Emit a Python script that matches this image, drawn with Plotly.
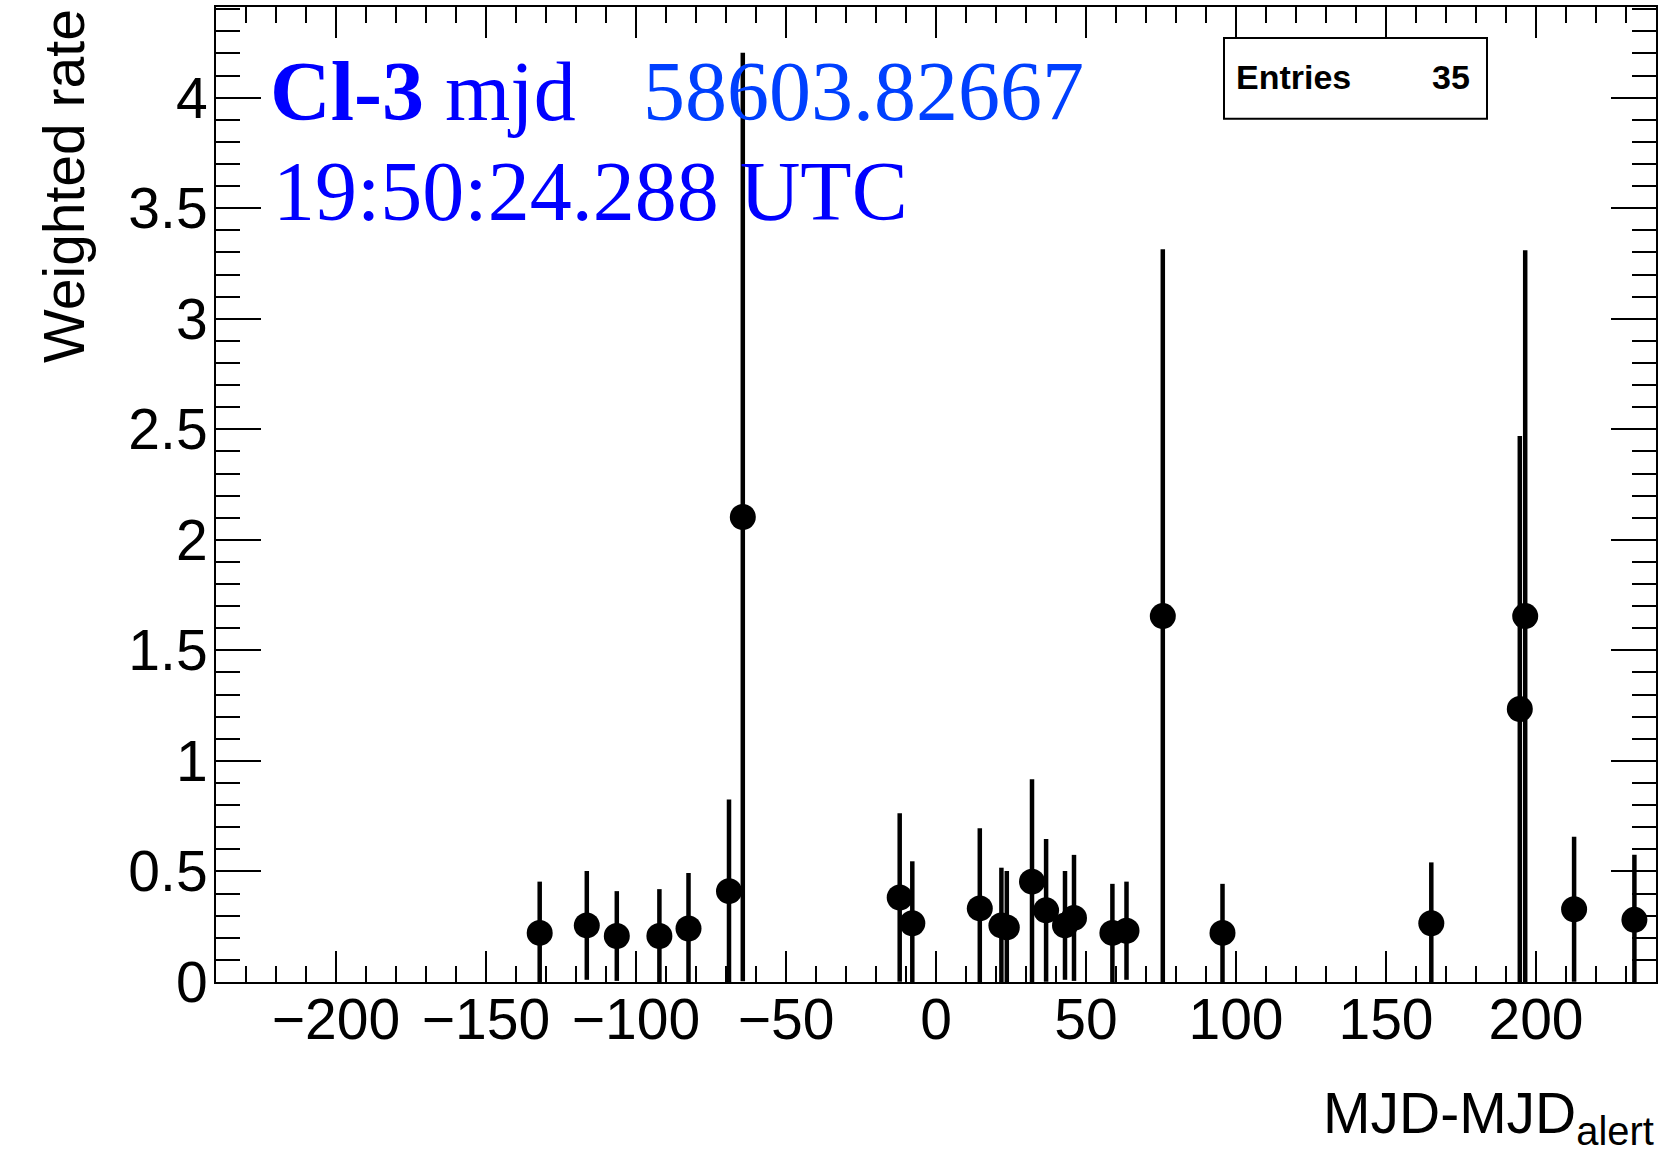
import plotly.graph_objects as go

# Weighted rate per day offset relative to the alert time
dt_days = [-132.1, -116.4, -106.4, -92.2, -82.5, -69.0, -64.4,
           -12.1, -7.9, 14.6, 21.8, 23.6, 32.0, 36.7, 43.0, 46.0,
           58.8, 63.5, 75.6, 95.5, 165.1, 194.6, 196.4, 212.7, 232.8]
rate = [0.222, 0.256, 0.208, 0.208, 0.242, 0.411, 2.103,
        0.382, 0.266, 0.333, 0.256, 0.247, 0.454, 0.324, 0.256, 0.290,
        0.222, 0.232, 1.655, 0.222, 0.266, 1.235, 1.655, 0.329, 0.281]
rate_err = [0.232, 0.246, 0.203, 0.212, 0.251, 0.415, 2.100,
            0.381, 0.280, 0.362, 0.261, 0.255, 0.463, 0.323, 0.246, 0.285,
            0.222, 0.222, 1.659, 0.222, 0.275, 1.235, 1.655, 0.328, 0.294]

n_entries = 35
x_range = [-240, 240]
y_range = [0, 4.41]

W, H = 1676, 1167
L, R, T, B = 216, 20, 5, 185
PW, PH = W - L - R, H - T - B


def px_x(p):
    return (p - L) / PW


def px_y(p):
    return (H - B - p) / PH


SANS = "Liberation Sans"
SERIF = "Liberation Serif"

fig = go.Figure()
fig.add_trace(go.Scatter(
    x=dt_days, y=rate, mode="markers",
    marker=dict(color="black", size=26, symbol="circle", line=dict(width=0)),
    error_y=dict(type="data", array=rate_err, visible=True,
                 color="black", thickness=4.5, width=0),
    showlegend=False, hoverinfo="skip",
))

axis_common = dict(
    showline=True, linecolor="black", linewidth=2, mirror="ticks",
    ticks="inside", tickcolor="black", tickwidth=2,
    showgrid=False, zeroline=False,
    tickfont=dict(family=SANS, size=57, color="black"),
)

fig.update_xaxes(range=x_range, dtick=50, tick0=0, ticklen=31,
                 ticklabelstandoff=-13,
                 minor=dict(dtick=10, ticklen=16, ticks="inside",
                            tickcolor="black", tickwidth=2, showgrid=False),
                 **axis_common)
fig.update_yaxes(range=y_range, dtick=0.5, tick0=0, ticklen=45,
                 ticklabelstandoff=-5,
                 minor=dict(dtick=0.1, ticklen=24, ticks="inside",
                            tickcolor="black", tickwidth=2, showgrid=False),
                 **axis_common)

annotations = [
    # axis titles
    dict(text="MJD-MJD<sub>alert</sub>", x=px_x(1656), y=px_y(1155),
         xanchor="right", yanchor="bottom",
         font=dict(family=SANS, size=57, color="black")),
    dict(text="Weighted rate", x=px_x(64), y=px_y(5), textangle=-90,
         xanchor="center", yanchor="top",
         font=dict(family=SANS, size=57, color="black")),
    # header text
    dict(text="<b>Cl-3</b> mjd", x=px_x(268), y=px_y(90),
         xanchor="left", yanchor="middle",
         font=dict(family=SERIF, size=84, color="#0000ff")),
    dict(text="58603.82667", x=px_x(641), y=px_y(90),
         xanchor="left", yanchor="middle",
         font=dict(family=SERIF, size=84, color="#0040ff")),
    dict(text="19:50:24.288 UTC", x=px_x(271), y=px_y(190),
         xanchor="left", yanchor="middle",
         font=dict(family=SERIF, size=84, color="#0000ff")),
    # statistics box
    dict(text="<b>Entries</b>", x=px_x(1234), y=px_y(75),
         xanchor="left", yanchor="middle",
         font=dict(family=SANS, size=34, color="black")),
    dict(text=f"<b>{n_entries}</b>", x=px_x(1472), y=px_y(75),
         xanchor="right", yanchor="middle",
         font=dict(family=SANS, size=34, color="black")),
]
for a in annotations:
    a.update(xref="paper", yref="paper", showarrow=False)

fig.update_layout(
    width=W, height=H,
    margin=dict(l=L, r=R, t=T, b=B, pad=0),
    paper_bgcolor="white", plot_bgcolor="white",
    annotations=annotations,
    shapes=[dict(type="rect", xref="paper", yref="paper",
                 x0=px_x(1224), x1=px_x(1487), y0=px_y(117), y1=px_y(36),
                 fillcolor="white", line=dict(color="black", width=2),
                 layer="above")],
)

fig.write_html("out.html")
